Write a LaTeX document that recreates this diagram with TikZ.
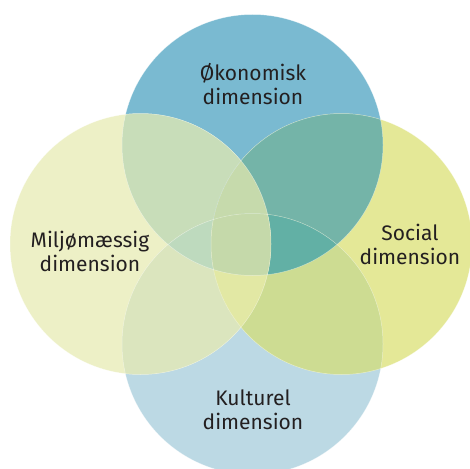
\documentclass[tikz,border=0pt]{standalone}
\usepackage{fontspec}
\setmainfont{Fira Sans}
\definecolor{cT}{HTML}{7ABAD1}
\definecolor{cR}{HTML}{E4E897}
\definecolor{cL}{HTML}{EDF0C6}
\definecolor{cB}{HTML}{BCD9E4}
\definecolor{cTL}{HTML}{C8DDB9}
\definecolor{cTR}{HTML}{74B4A8}
\definecolor{cLB}{HTML}{DBE5BE}
\definecolor{cRB}{HTML}{CDDC92}
\definecolor{cTLR}{HTML}{C6DAAC}
\definecolor{cTRB}{HTML}{62B0A5}
\definecolor{cTLB}{HTML}{BEDABE}
\definecolor{cLRB}{HTML}{E2E8A4}
\definecolor{cAll}{HTML}{C5D9AA}
\definecolor{txt}{HTML}{231F20}
\tikzset{
  lbl/.style={align=center, text=txt, font=\fontsize{21}{24}\selectfont, inner sep=0pt},
  rim/.style={draw=white, draw opacity=0.45, line width=0.5pt}
}
\begin{document}
\begin{tikzpicture}[x=1pt,y=-1pt]
\useasboundingbox (0,0) rectangle (470,468);
\clip (0,0) rectangle (470,468);
\def\R{130.5pt}
\coordinate (T) at (252.5,145);
\coordinate (B) at (252.5,344);
\coordinate (L) at (140.5,244);
\coordinate (Rc) at (341.5,244);
% singles
\fill[cB] (B) circle[radius=\R];
\fill[cT] (T) circle[radius=\R];
\fill[cL] (L) circle[radius=\R];
\fill[cR] (Rc) circle[radius=\R];
% pairs
\begin{scope}\clip (T) circle[radius=\R]; \fill[cTL] (L) circle[radius=\R]; \end{scope}
\begin{scope}\clip (T) circle[radius=\R]; \fill[cTR] (Rc) circle[radius=\R]; \end{scope}
\begin{scope}\clip (B) circle[radius=\R]; \fill[cLB] (L) circle[radius=\R]; \end{scope}
\begin{scope}\clip (B) circle[radius=\R]; \fill[cRB] (Rc) circle[radius=\R]; \end{scope}
% triples
\begin{scope}\clip (T) circle[radius=\R]; \clip (L) circle[radius=\R]; \fill[cTLR] (Rc) circle[radius=\R]; \end{scope}
\begin{scope}\clip (T) circle[radius=\R]; \clip (B) circle[radius=\R]; \fill[cTRB] (Rc) circle[radius=\R]; \end{scope}
\begin{scope}\clip (T) circle[radius=\R]; \clip (B) circle[radius=\R]; \fill[cTLB] (L) circle[radius=\R]; \end{scope}
\begin{scope}\clip (L) circle[radius=\R]; \clip (B) circle[radius=\R]; \fill[cLRB] (Rc) circle[radius=\R]; \end{scope}
% all four
\begin{scope}\clip (T) circle[radius=\R]; \clip (B) circle[radius=\R]; \clip (L) circle[radius=\R]; \fill[cAll] (Rc) circle[radius=\R]; \end{scope}
% faint rims
\draw[rim] (T) circle[radius=\R];
\draw[rim] (B) circle[radius=\R];
\draw[rim] (L) circle[radius=\R];
\draw[rim] (Rc) circle[radius=\R];
% labels
\node[lbl] (nT) at (253,84) {Økonomisk\\dimension};
\node[lbl] (nL) at (90,251) {Miljømæssig\\dimension};
\node[lbl] (nR) at (410,244) {Social\\dimension};
\node[lbl] (nB) at (253,410) {Kulturel\\dimension};
\end{tikzpicture}
\end{document}
